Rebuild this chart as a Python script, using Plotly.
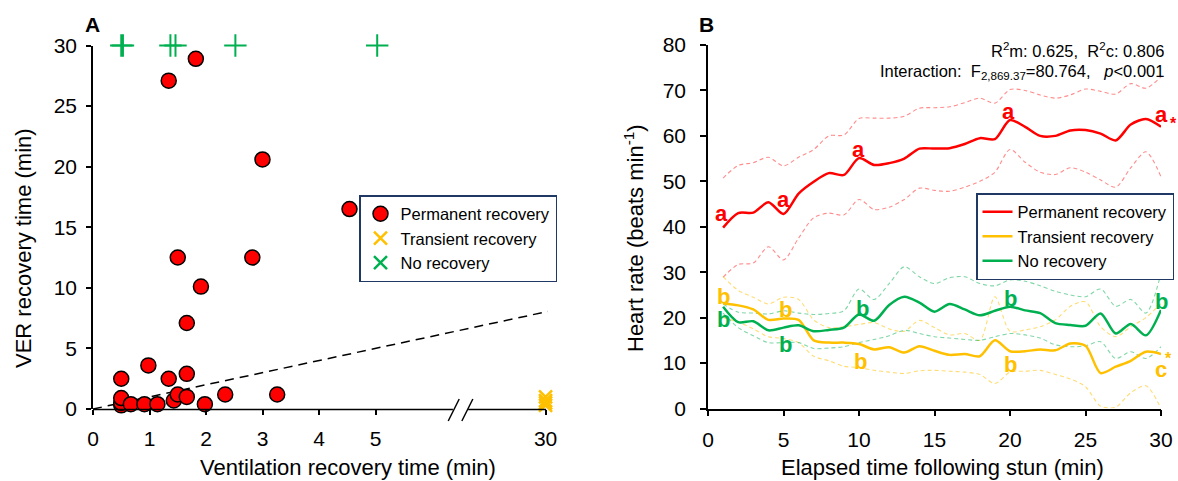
import plotly.graph_objects as go

W, H = 1178, 481
FONT = "Arial, Liberation Sans, sans-serif"

# ---------------- Panel A data ----------------
perm_vent = [0.5, 0.5, 0.5, 0.5, 0.67, 0.91, 0.98, 1.14, 1.34, 1.34, 1.43, 1.5, 1.5,
             1.66, 1.66, 1.66, 1.82, 1.91, 1.98, 2.34, 2.82, 3.0, 3.26, 4.54]
perm_ver = [0.3, 0.5, 0.9, 2.5, 0.4, 0.4, 3.6, 0.4, 2.5, 27.1, 0.7, 1.2, 12.5,
            1.0, 2.9, 7.1, 28.9, 10.1, 0.4, 1.2, 12.5, 20.6, 1.2, 16.5]
trans_vent = [30, 30, 30, 30]
trans_ver = [0.3, 0.5, 0.7, 1.0]
none_vent = [0.5, 0.53, 1.37, 1.46, 2.52, 5.03]
none_ver = [30, 30, 30, 30, 30, 30]
identity_line = [0, 8.05]
xA_ticks = [0, 1, 2, 3, 4, 5]
xA_break_ticks = [30]
yA_ticks = [0, 5, 10, 15, 20, 25, 30]

# ---------------- Panel B data ----------------
minutes = list(range(1, 31))
perm_hr = [39.8, 43.0, 43.1, 45.4, 42.8, 47.3, 49.9, 51.8, 51.4, 55.1, 53.6, 54.0, 55.0, 57.2, 57.2,
           57.3, 58.2, 59.5, 59.3, 63.5, 62.0, 60.0, 60.0, 61.2, 61.3, 60.5, 59.0, 62.5, 63.7, 62.0]
perm_hi = [50.7, 53.5, 54.1, 55.3, 53.4, 55.3, 57.0, 60.0, 60.2, 63.8, 63.9, 63.9, 64.3, 66.1, 66.2,
           66.4, 67.3, 68.3, 67.2, 70.2, 70.0, 69.0, 68.3, 69.0, 70.3, 69.8, 69.2, 71.5, 70.5, 73.0]
perm_lo = [28.9, 31.7, 32.0, 35.6, 32.7, 37.5, 42.0, 43.0, 42.6, 46.0, 43.8, 44.3, 46.0, 48.5, 48.0,
           47.8, 48.7, 50.0, 52.0, 57.0, 54.2, 52.0, 51.5, 53.0, 52.0, 50.3, 48.7, 53.0, 56.5, 51.0]
trans_hr = [23.1, 22.7, 21.8, 19.5, 19.8, 19.5, 15.0, 14.5, 14.5, 14.2, 13.0, 13.5, 12.3, 13.7, 12.7,
            11.8, 12.0, 11.5, 15.0, 12.6, 12.6, 13.0, 12.8, 14.3, 13.8, 7.8, 9.2, 10.5, 12.5, 12.0]
trans_hi = [29.0, 26.0, 24.5, 23.0, 24.5, 24.0, 19.5, 17.8, 18.0, 18.5, 18.9, 17.5, 17.0, 19.4, 17.8,
            16.2, 16.5, 15.0, 24.6, 17.0, 17.3, 18.0, 19.5, 22.5, 23.5, 18.0, 15.8, 18.0, 20.0, 23.1]
trans_lo = [20.0, 19.0, 17.5, 15.8, 15.4, 14.5, 11.5, 10.5, 9.3, 9.0, 8.4, 8.0, 7.7, 8.3, 8.4,
            8.2, 8.0, 7.5, 5.5, 8.0, 8.2, 8.4, 7.5, 6.5, 4.8, 0.5, 0.3, 3.5, 5.0, 0.0]
none_hr = [22.4, 19.0, 19.2, 17.2, 17.8, 18.3, 17.0, 17.3, 17.8, 20.7, 19.3, 22.8, 24.6, 23.3, 21.3,
           23.0, 21.8, 20.5, 21.5, 22.4, 21.6, 21.0, 18.8, 18.4, 18.2, 20.9, 16.5, 18.6, 16.1, 21.7]
none_hi = [23.0, 21.2, 21.0, 20.8, 21.5, 21.0, 20.7, 20.9, 21.5, 26.3, 24.0, 27.5, 31.2, 29.0, 27.5,
           28.8, 29.0, 27.5, 27.0, 28.3, 28.0, 27.0, 25.8, 25.0, 24.6, 26.3, 22.5, 24.0, 21.0, 29.7]
none_lo = [21.0, 17.8, 16.0, 14.5, 14.5, 14.5, 13.2, 13.3, 13.6, 14.5, 15.2, 16.0, 17.2, 16.5, 15.8,
           15.5, 15.2, 15.0, 15.8, 16.5, 16.2, 15.5, 14.0, 13.6, 13.8, 14.7, 11.0, 12.5, 11.0, 13.6]
xB_ticks = [0, 5, 10, 15, 20, 25, 30]
yB_ticks = [0, 10, 20, 30, 40, 50, 60, 70, 80]

# significance letters (position in data units)
red_letter_x = [0.9, 5.0, 9.95, 19.9, 30.0]
red_letter_y = [43.0, 45.9, 56.9, 65.3, 64.6]
red_letter_t = ["a", "a", "a", "a", "a"]
grn_letter_x = [1.0, 5.1, 10.2, 20.0, 30.0]
grn_letter_y = [19.5, 14.0, 22.0, 24.3, 23.5]
grn_letter_t = ["b", "b", "b", "b", "b"]
org_letter_x = [1.0, 5.1, 10.07, 20.0, 30.0]
org_letter_y = [24.6, 21.7, 10.3, 9.6, 8.5]
org_letter_t = ["b", "b", "b", "b", "c"]

RED = "#FF0000"
ORANGE = "#FFC000"
GREEN = "#00B050"
NAVY = "#203864"

# ---------------- geometry helpers ----------------
def px_x(p):
    return p / W

def px_y(p):
    return 1 - p / H

A_left, A_right = 93.0, 550.65
A_top, A_bot = 45.5, 409.0
A_range = [0, 8.1]
B_left, B_right = 708.0, 1161.0
B_top, B_bot = 45.0, 408.5

def a_xpx(v):
    return A_left + (v - A_range[0]) / (A_range[1] - A_range[0]) * (A_right - A_left)

fig = go.Figure()

# ---- Panel A traces ----
fig.add_trace(go.Scatter(x=identity_line, y=identity_line, mode="lines",
                         line=dict(color="black", width=1.5, dash="9px,6px"),
                         showlegend=False, xaxis="x", yaxis="y", hoverinfo="skip"))
fig.add_trace(go.Scatter(x=perm_vent, y=perm_ver, mode="markers", name="Permanent recovery",
                         marker=dict(symbol="circle", size=15, color=RED,
                                     line=dict(color="black", width=1.5)),
                         cliponaxis=False, xaxis="x", yaxis="y", legend="legend"))
fig.add_trace(go.Scatter(x=trans_vent, y=trans_ver, mode="markers", name="Transient recovery",
                         marker=dict(symbol="x-thin-open", size=13, color=ORANGE,
                                     line=dict(color=ORANGE, width=2.5)),
                         cliponaxis=False, xaxis="x2", yaxis="y", legend="legend"))
fig.add_trace(go.Scatter(x=none_vent, y=none_ver, mode="markers", name="No recovery",
                         marker=dict(symbol="cross-thin-open", size=16, color=GREEN,
                                     line=dict(color=GREEN, width=2)),
                         cliponaxis=False, xaxis="x", yaxis="y", showlegend=False))
fig.add_trace(go.Scatter(x=[None], y=[None], mode="markers", name="No recovery",
                         marker=dict(symbol="x-thin-open", size=13, color=GREEN,
                                     line=dict(color=GREEN, width=2.5)),
                         xaxis="x", yaxis="y", legend="legend"))

# ---- Panel B traces ----
ci_dash = "4px,3px"
for lo, hi, col in [(perm_lo, perm_hi, "rgba(255,0,0,0.45)"),
                    (trans_lo, trans_hi, "rgba(255,192,0,0.55)"),
                    (none_lo, none_hi, "rgba(0,176,80,0.5)")]:
    for arr in (lo, hi):
        fig.add_trace(go.Scatter(x=minutes, y=arr, mode="lines",
                                 line=dict(color=col, width=1.1, dash=ci_dash, shape="spline", smoothing=0.8),
                                 showlegend=False, xaxis="x3", yaxis="y2", hoverinfo="skip"))
for arr, col, nm in [(perm_hr, RED, "Permanent recovery"),
                     (trans_hr, ORANGE, "Transient recovery"),
                     (none_hr, GREEN, "No recovery")]:
    fig.add_trace(go.Scatter(x=minutes, y=arr, mode="lines", name=nm,
                             line=dict(color=col, width=2.5, shape="spline", smoothing=0.8),
                             xaxis="x3", yaxis="y2", legend="legend2"))

tickfont = dict(family=FONT, size=21, color="black")
common = dict(showgrid=False, zeroline=False, ticks="outside", tickcolor="black",
              tickwidth=1.5, tickfont=tickfont, automargin=False)

fig.update_layout(
    width=W, height=H, autosize=False,
    margin=dict(l=0, r=0, t=0, b=0, pad=0, autoexpand=False),
    paper_bgcolor="white", plot_bgcolor="white",
    font=dict(family=FONT, color="black"),
    xaxis=dict(domain=[px_x(A_left), px_x(A_right)], range=A_range, anchor="y",
               tickvals=xA_ticks, ticklen=5, showline=False, ticklabelstandoff=6, **common),
    xaxis2=dict(overlaying="x", anchor="y", range=[30 - 8.01, 30 - 8.01 + 8.1],
                tickvals=xA_break_ticks, ticklen=5, showline=False, ticklabelstandoff=6, **common),
    yaxis=dict(domain=[px_y(A_bot), px_y(A_top)], range=[0, 30], anchor="x",
               tickvals=yA_ticks, ticklen=5, showline=True, linecolor="black", linewidth=1.5,
               ticklabelstandoff=5, **common),
    xaxis3=dict(domain=[px_x(B_left), px_x(B_right)], range=[0, 30], anchor="y2",
                tickvals=xB_ticks, ticklen=6, showline=True, linecolor="black", linewidth=1.5,
                ticklabelstandoff=6, **common),
    yaxis2=dict(domain=[px_y(B_bot), px_y(B_top)], range=[0, 80], anchor="x3",
                tickvals=yB_ticks, ticklen=6, showline=True, linecolor="black", linewidth=1.5,
                ticklabelstandoff=10, **common),
    legend=dict(x=px_x(557), y=px_y(195), xanchor="right", yanchor="top",
                bgcolor="white", bordercolor=NAVY, borderwidth=1.5,
                font=dict(family=FONT, size=16.5, color="black"), itemwidth=30,
                tracegroupgap=0, traceorder="normal"),
    legend2=dict(x=px_x(1174), y=px_y(193), xanchor="right", yanchor="top",
                 bgcolor="white", bordercolor=NAVY, borderwidth=1.5,
                 font=dict(family=FONT, size=16.5, color="black"), itemwidth=30,
                 tracegroupgap=0, traceorder="normal"),
)

# ---- Panel A x-axis line with break (decoration) ----
y0 = px_y(A_bot + 0.5)
brk_lo, brk_hi = 6.37, 6.64
seg_end = 8.02
shapes = [
    dict(type="line", xref="paper", yref="paper", x0=px_x(a_xpx(0)), x1=px_x(a_xpx(brk_lo)),
         y0=y0, y1=y0, line=dict(color="black", width=1.5)),
    dict(type="line", xref="paper", yref="paper", x0=px_x(a_xpx(brk_hi)), x1=px_x(a_xpx(seg_end)),
         y0=y0, y1=y0, line=dict(color="black", width=1.5)),
]
for c in (a_xpx(brk_lo) + 0.8, a_xpx(brk_hi) - 0.8):
    shapes.append(dict(type="line", xref="paper", yref="paper",
                       x0=px_x(c - 5.5), x1=px_x(c + 5.5),
                       y0=px_y(A_bot + 12), y1=px_y(A_bot - 10),
                       line=dict(color="black", width=1.5)))
fig.update_layout(shapes=shapes)


def txt(text, xp, yp, size, color="black", angle=0, xanchor="center", yanchor="middle"):
    return dict(text=text, xref="paper", yref="paper", x=px_x(xp), y=px_y(yp),
                xanchor=xanchor, yanchor=yanchor, textangle=angle, showarrow=False,
                font=dict(size=size, family=FONT, color=color))

ann = [
    txt("<b>A</b>", 92, 24, 21),
    txt("<b>B</b>", 706.5, 24, 21),
    txt("VER recovery time (min)", 23, 248, 22, angle=-90),
    txt("Ventilation recovery time (min)", 348, 467, 22),
    txt("Heart rate (beats min<sup>-1</sup>)", 634, 238, 22, angle=-90),
    txt("Elapsed time following stun (min)", 942, 467, 22),
    txt("R<sup>2</sup>m: 0.625,&nbsp;&nbsp;R<sup>2</sup>c: 0.806", 1166, 50, 16.5, xanchor="right"),
    txt("Interaction:&nbsp;&nbsp;F<sub>2,869.37</sub>=80.764,&nbsp;&nbsp;&nbsp;<i>p</i>&lt;0.001",
        1166, 72, 16.5, xanchor="right"),
]
# letters
for xs, ys, ts, col in [(red_letter_x, red_letter_y, red_letter_t, RED),
                        (grn_letter_x, grn_letter_y, grn_letter_t, GREEN),
                        (org_letter_x, org_letter_y, org_letter_t, ORANGE)]:
    for xv, yv, tv in zip(xs, ys, ts):
        ann.append(dict(text=f"<b>{tv}</b>", x=xv, y=yv, xref="x3", yref="y2", showarrow=False,
                        xanchor="center", yanchor="middle",
                        font=dict(size=22, family=FONT, color=col)))
ann.append(dict(text="<b>*</b>", x=30, y=62.8, xref="x3", yref="y2", xshift=12, showarrow=False,
                xanchor="center", yanchor="middle", font=dict(size=16, family=FONT, color=RED)))
ann.append(dict(text="<b>*</b>", x=30, y=11.0, xref="x3", yref="y2", xshift=7, showarrow=False,
                xanchor="center", yanchor="middle", font=dict(size=16, family=FONT, color=ORANGE)))
fig.update_layout(annotations=ann)

fig.write_html("out.html")
